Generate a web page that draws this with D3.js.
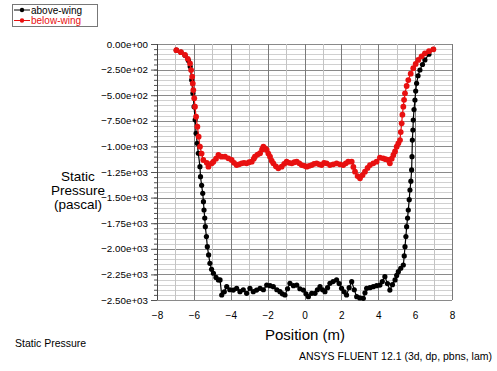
<!DOCTYPE html>
<html>
<head>
<meta charset="utf-8">
<script src="https://cdn.jsdelivr.net/npm/d3@7"></script>
<style>
  body { margin: 0; background: #fff; }
  svg { font-family: Arial, "Liberation Sans", sans-serif; }
</style>
</head>
<body>
<svg id="chart" width="497" height="371"></svg>
<script>
// above-wing (black) : [position m, static pressure Pa]
const aboveWing = [
  [-6.95, -60], [-6.7, -80], [-6.48, -110], [-6.3, -160], [-6.2, -220], [-6.12, -352],
  [-6.05, -480], [-5.99, -612], [-5.93, -740], [-5.88, -872], [-5.82, -970], [-5.76, -1067],
  [-5.67, -1198], [-5.64, -1296], [-5.58, -1380], [-5.52, -1458], [-5.48, -1540], [-5.45, -1621],
  [-5.41, -1700], [-5.38, -1784], [-5.32, -1880], [-5.27, -1979], [-5.2, -2060], [-5.13, -2142],
  [-5.04, -2200], [-4.94, -2239], [-4.8, -2280], [-4.67, -2304], [-4.58, -2304], [-4.49, -2451],
  [-4.35, -2420], [-4.22, -2370], [-4.05, -2400], [-3.86, -2403], [-3.68, -2386], [-3.5, -2419],
  [-3.32, -2400], [-3.14, -2435], [-2.96, -2386], [-2.78, -2419], [-2.6, -2403], [-2.41, -2386],
  [-2.23, -2400], [-2.05, -2354], [-1.87, -2360], [-1.69, -2370], [-1.5, -2400], [-1.33, -2419],
  [-1.2, -2440], [-1.06, -2451], [-0.92, -2390], [-0.79, -2337], [-0.6, -2360], [-0.42, -2354],
  [-0.25, -2390], [-0.06, -2403], [0.08, -2440], [0.21, -2468], [0.39, -2435], [0.57, -2435],
  [0.7, -2400], [0.84, -2370], [0.98, -2400], [1.11, -2419], [1.25, -2380], [1.38, -2337],
  [1.55, -2320], [1.74, -2304], [1.88, -2340], [2.01, -2386], [2.15, -2420], [2.28, -2451],
  [2.42, -2380], [2.56, -2321], [2.7, -2400], [2.83, -2468], [3.0, -2480], [3.19, -2484],
  [3.28, -2430], [3.37, -2386], [3.55, -2380], [3.73, -2370], [3.91, -2360], [4.09, -2354],
  [4.22, -2320], [4.36, -2272], [4.5, -2340], [4.63, -2403], [4.77, -2350], [4.91, -2304],
  [5.0, -2260], [5.09, -2223], [5.22, -2190], [5.36, -2158], [5.41, -2070], [5.45, -1979],
  [5.5, -1880], [5.54, -1784], [5.59, -1700], [5.63, -1621], [5.68, -1520], [5.72, -1426],
  [5.77, -1340], [5.81, -1230], [5.83, -1100], [5.85, -938], [5.88, -840], [5.9, -742],
  [5.94, -640], [5.99, -547], [6.03, -460], [6.08, -384], [6.16, -310], [6.26, -254],
  [6.4, -200], [6.53, -156], [6.75, -100], [6.99, -52]
];

// below-wing (red)
const belowWing = [
  [-6.95, -60], [-6.7, -80], [-6.48, -107], [-6.33, -145], [-6.21, -190], [-6.15, -255],
  [-6.09, -320], [-6.06, -385], [-6.03, -450], [-5.98, -530], [-5.94, -612], [-5.88, -710],
  [-5.81, -807], [-5.74, -905], [-5.67, -1003], [-5.58, -1070], [-5.49, -1133], [-5.3, -1160],
  [-5.21, -1198], [-5.03, -1165], [-4.94, -1150], [-4.8, -1120], [-4.67, -1084], [-4.5, -1100],
  [-4.31, -1100], [-4.13, -1116], [-3.95, -1133], [-3.82, -1160], [-3.68, -1182], [-3.55, -1175],
  [-3.41, -1165], [-3.28, -1160], [-3.14, -1165], [-3.0, -1155], [-2.86, -1149], [-2.75, -1120],
  [-2.69, -1100], [-2.55, -1080], [-2.41, -1067], [-2.3, -1030], [-2.23, -1003], [-2.13, -1020],
  [-2.05, -1035], [-1.96, -1070], [-1.87, -1100], [-1.78, -1140], [-1.69, -1165], [-1.55, -1195],
  [-1.42, -1214], [-1.24, -1198], [-1.1, -1170], [-0.97, -1149], [-0.83, -1160], [-0.69, -1165],
  [-0.55, -1155], [-0.42, -1149], [-0.28, -1165], [-0.15, -1182], [0.0, -1190], [0.12, -1198],
  [0.26, -1190], [0.39, -1182], [0.52, -1170], [0.66, -1165], [0.8, -1175], [0.93, -1182],
  [1.06, -1160], [1.2, -1165], [1.38, -1182], [1.56, -1175], [1.74, -1165], [1.92, -1175],
  [2.1, -1182], [2.24, -1165], [2.37, -1149], [2.56, -1149], [2.65, -1200], [2.74, -1247],
  [2.88, -1290], [3.01, -1312], [3.15, -1280], [3.28, -1247], [3.42, -1210], [3.55, -1182],
  [3.73, -1165], [3.91, -1149], [4.09, -1110], [4.27, -1116], [4.4, -1125], [4.54, -1133],
  [4.63, -1165], [4.73, -1120], [4.82, -1084], [4.91, -1050], [5.0, -1003], [5.09, -970],
  [5.18, -938], [5.22, -860], [5.27, -775], [5.31, -690], [5.36, -612], [5.4, -545],
  [5.45, -482], [5.54, -410], [5.63, -352], [5.76, -290], [5.9, -237], [6.03, -195],
  [6.17, -156], [6.35, -120], [6.53, -91], [6.75, -70], [6.99, -52]
];

const xTicks = [-8, -6, -4, -2, 0, 2, 4, 6, 8];
const yTicks = [0, -250, -500, -750, -1000, -1250, -1500, -1750, -2000, -2250, -2500];

const svg = d3.select("#chart");
const plotL = 157, plotR = 452, plotT = 44, plotB = 300;

const x = d3.scaleLinear().domain([-8, 8]).range([plotL, plotR]);
const y = d3.scaleLinear().domain([0, -2500]).range([plotT, plotB]);

// grid
const grid = svg.append("g");
grid.selectAll(".hmin")
  .data(d3.range(0, -2501, -50))
  .enter().append("line")
  .attr("x1", plotL).attr("x2", plotR)
  .attr("y1", d => Math.round(y(d)) + 0.5).attr("y2", d => Math.round(y(d)) + 0.5)
  .attr("stroke", d => d % 250 === 0 ? "#8a8a8a" : "#d0d0d0")
  .attr("stroke-width", 1);
grid.selectAll(".vmin")
  .data(d3.range(-8, 8.01, 1))
  .enter().append("line")
  .attr("y1", plotT).attr("y2", plotB)
  .attr("x1", d => Math.round(x(d)) + 0.5).attr("x2", d => Math.round(x(d)) + 0.5)
  .attr("stroke", d => d % 2 === 0 ? "#7a7a7a" : "#c4c4c4")
  .attr("stroke-width", 1);

// left axis with minor ticks
const yAxis = svg.append("g").attr("transform", "translate(" + plotL + ",0)");
yAxis.call(d3.axisLeft(y).tickValues(d3.range(0, -2501, -50)).tickSize(3).tickFormat(""))
  .select(".domain").remove();
yAxis.selectAll("line").attr("stroke", "#555");
yAxis.append("line").attr("x1", 0.5).attr("x2", 0.5).attr("y1", plotT).attr("y2", plotB).attr("stroke", "#444");

const yLab = svg.append("g").attr("transform", "translate(" + plotL + ",0)");
yLab.call(d3.axisLeft(y).tickValues(yTicks).tickSize(6).tickPadding(3)
    .tickFormat(d => d3.format(".2e")(d).replace(/e([+-])(\d)$/, "e$10$2")))
  .select(".domain").remove();
yLab.selectAll("line").attr("stroke", "#555");
yLab.selectAll("text").attr("font-size", 9.8).attr("font-family", "Arial, 'Liberation Sans', sans-serif").attr("fill", "#000");

const xAxis = svg.append("g").attr("transform", "translate(0," + plotB + ")");
xAxis.call(d3.axisBottom(x).tickValues(xTicks).tickSize(0).tickPadding(12))
  .select(".domain").remove();
xAxis.selectAll("text").attr("font-size", 10).attr("font-family", "Arial, 'Liberation Sans', sans-serif").attr("fill", "#000");

// series
const line = d3.line().x(d => x(d[0])).y(d => y(d[1]));
function drawSeries(data, color, r) {
  svg.append("path").datum(data)
    .attr("fill", "none").attr("stroke", color).attr("stroke-width", 1.2)
    .attr("d", line);
  svg.append("g").selectAll("circle")
    .data(data).enter().append("circle")
    .attr("cx", d => x(d[0])).attr("cy", d => y(d[1]))
    .attr("r", r).attr("fill", color);
}
drawSeries(aboveWing, "#000", 2.6);
drawSeries(belowWing, "#e81010", 2.9);

// legend
const lg = svg.append("g");
lg.append("rect").attr("x", 12.5).attr("y", 4.5).attr("width", 85).attr("height", 22)
  .attr("fill", "#fff").attr("stroke", "#777");
[["above-wing", "#000"], ["below-wing", "#e81010"]].forEach((s, i) => {
  const yy = 10 + i * 10.5;
  lg.append("line").attr("x1", 14).attr("x2", 30).attr("y1", yy).attr("y2", yy).attr("stroke", s[1]);
  lg.append("circle").attr("cx", 22).attr("cy", yy).attr("r", 2.2).attr("fill", s[1]);
  lg.append("text").attr("x", 31).attr("y", yy + 3.5).attr("font-size", 10).attr("fill", s[1]).text(s[0]);
});

// titles
const yt = svg.append("text").attr("text-anchor", "middle").attr("font-size", 13.5).attr("fill", "#000");
["Static", "Pressure", "(pascal)"].forEach((t, i) => {
  yt.append("tspan").attr("x", 78).attr("y", 181 + i * 14).text(t);
});
svg.append("text").attr("x", 305).attr("y", 340).attr("text-anchor", "middle")
  .attr("font-size", 15).text("Position (m)");
svg.append("text").attr("x", 15).attr("y", 347).attr("font-size", 10.5).text("Static Pressure");
svg.append("text").attr("x", 492).attr("y", 360).attr("text-anchor", "end")
  .attr("font-size", 10.5).text("ANSYS FLUENT 12.1 (3d, dp, pbns, lam)");
</script>
</body>
</html>
